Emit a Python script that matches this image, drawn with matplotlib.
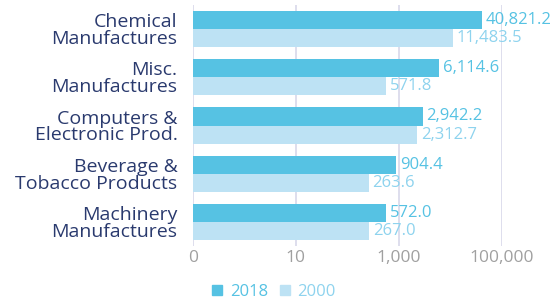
import matplotlib
matplotlib.use("Agg")
import matplotlib.pyplot as plt
import numpy as np
from matplotlib.patches import Patch

categories = ["Chemical\nManufactures", "Misc.\nManufactures", "Computers &\nElectronic Prod.",
              "Beverage &\nTobacco Products", "Machinery\nManufactures"]
values_2018 = [40821.2, 6114.6, 2942.2, 904.4, 572.0]
values_2000 = [11483.5, 571.8, 2312.7, 263.6, 267.0]
series_names = ["2018", "2000"]
tick_values = [0.1, 10, 1000, 100000]
tick_labels = ["0", "10", "1,000", "100,000"]

c2018 = "#56C2E3"
c2000 = "#BDE2F4"
lab2018 = "#56C2E3"
lab2000 = "#8ED3EE"
navy = "#2A3A6E"

plt.rcParams['font.family'] = ['Open Sans', 'DejaVu Sans']

fig = plt.figure(figsize=(5.55, 3.04), dpi=100)
ax = fig.add_axes([192.7/555, (304-246)/304, (501.7-192.7)/555, (246-5)/304])

n = len(categories)
y = np.arange(n)
h = 0.375
base = 0.1
ax.barh(y - h/2, np.array(values_2018) - base, left=base, height=h, color=c2018, zorder=2)
ax.barh(y + h/2, np.array(values_2000) - base, left=base, height=h, color=c2000, zorder=2)

ax.set_xscale('log')
ax.set_xlim(0.1, 100000)
ax.set_ylim(n - 0.5, -0.5)
ax.set_xticks(tick_values)
ax.set_xticklabels(tick_labels)
ax.xaxis.set_minor_locator(matplotlib.ticker.NullLocator())
ax.set_yticks(y)
ax.set_yticklabels(categories, color=navy, fontsize=14, linespacing=0.92)
ax.tick_params(axis='y', length=0, pad=11)
ax.tick_params(axis='x', length=0, labelsize=12.5, pad=3)
for lab in ax.get_xticklabels():
    lab.set_color("#A0A0A0")
ax.grid(axis='x', color="#D8D8EA", linewidth=1.2, zorder=0)
for s in ax.spines.values():
    s.set_visible(False)

def fmt(v):
    return f"{v:,.1f}"

for i in range(n):
    ax.annotate(fmt(values_2018[i]), (values_2018[i], y[i] - h/2), xytext=(2.5, 0),
                textcoords='offset points', va='center', ha='left', color=lab2018,
                fontsize=12, annotation_clip=False, zorder=3)
    ax.annotate(fmt(values_2000[i]), (values_2000[i], y[i] + h/2), xytext=(2.5, 0),
                textcoords='offset points', va='center', ha='left', color=lab2000,
                fontsize=12, annotation_clip=False, zorder=3)

handles = [Patch(color=c2018, label=series_names[0]), Patch(color=c2000, label=series_names[1])]
leg = fig.legend(handles=handles, loc='center', bbox_to_anchor=(274/555, 1 - 292/304), ncol=2,
                 frameon=False, fontsize=12, handlelength=0.6, handleheight=0.6,
                 handletextpad=0.45, columnspacing=0.7)
for t, c in zip(leg.get_texts(), [lab2018, lab2000]):
    t.set_color(c)

fig.savefig("out.png", dpi=100)
